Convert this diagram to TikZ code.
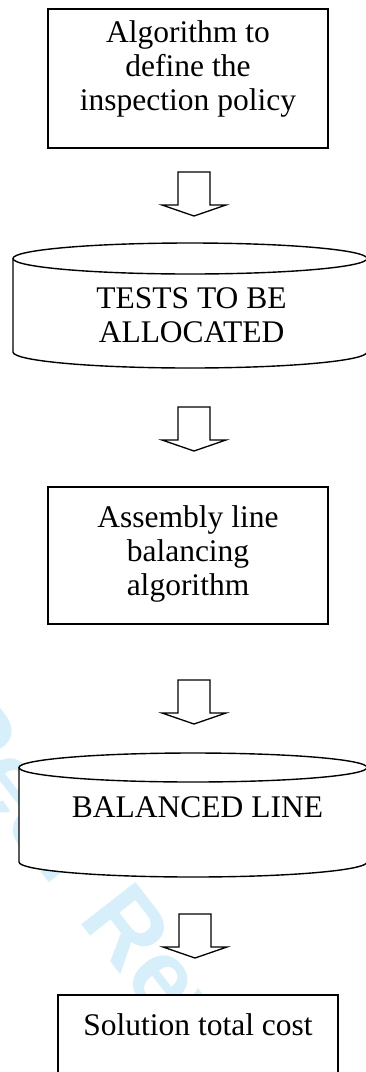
\documentclass[tikz,border=0pt]{standalone}
\usepackage{fontspec}
\setmainfont{Liberation Serif}
\newfontfamily\wmfont{Liberation Sans}
\usetikzlibrary{positioning}
\definecolor{wmblue}{RGB}{214,239,251}
\tikzset{
	box/.style={draw, fill=white, line width=1.6pt, rectangle, minimum width=280pt, inner sep=0pt},
	lbl/.style={align=center, inner sep=0pt, font=\fontsize{31.5}{34}\selectfont},
	disk/.style={line width=1.4pt, fill=white},
	downarrow/.pic={\draw[line width=1.3pt, fill=white] (-16,0) -- (16,0) -- (16,33) -- (32,33) -- (0,44) -- (-32,33) -- (-16,33) -- cycle;}
}
\begin{document}
\begin{tikzpicture}[x=1pt, y=-1pt]
	\useasboundingbox (0,0) rectangle (366,1072);
	\node[text=wmblue, font=\wmfont\bfseries\fontsize{100}{100}\selectfont, rotate=-52, anchor=base west] (wm) at (-191,575) {For Peer Review};
	\node[box, minimum height=139pt] (algo) at (188,78.5) {};
	\node[lbl, below=12pt of algo.north] (algotxt) {Algorithm to\\define the\\inspection policy};
	\pic at (194,172) {downarrow};
	\draw[disk] (13,258.5) -- (13,352) arc[start angle=180, end angle=0, x radius=177, y radius=16] -- (367,258.5);
	\draw[disk] (190,258.5) ellipse[x radius=177, y radius=15.5];
	\node[lbl, anchor=north] (tests) at (191.5,287) {TESTS TO BE\\ALLOCATED};
	\pic at (194,407) {downarrow};
	\node[box, minimum height=137pt] (balalgo) at (188,555.5) {};
	\node[lbl, below=19pt of balalgo.north] (balalgotxt) {Assembly line\\balancing\\algorithm};
	\pic at (194,680) {downarrow};
	\draw[disk] (19,767.5) -- (19,862) arc[start angle=180, end angle=0, x radius=174, y radius=15] -- (367,767.5);
	\draw[disk] (193,767.5) ellipse[x radius=174, y radius=14.5];
	\node[lbl, anchor=north] (balanced) at (197.5,796.5) {BALANCED LINE};
	\pic at (195,914) {downarrow};
	\node[box, minimum height=139pt] (cost) at (198,1064.5) {};
	\node[lbl, below=19pt of cost.north] (costtxt) {Solution total cost};
\end{tikzpicture}
\end{document}
